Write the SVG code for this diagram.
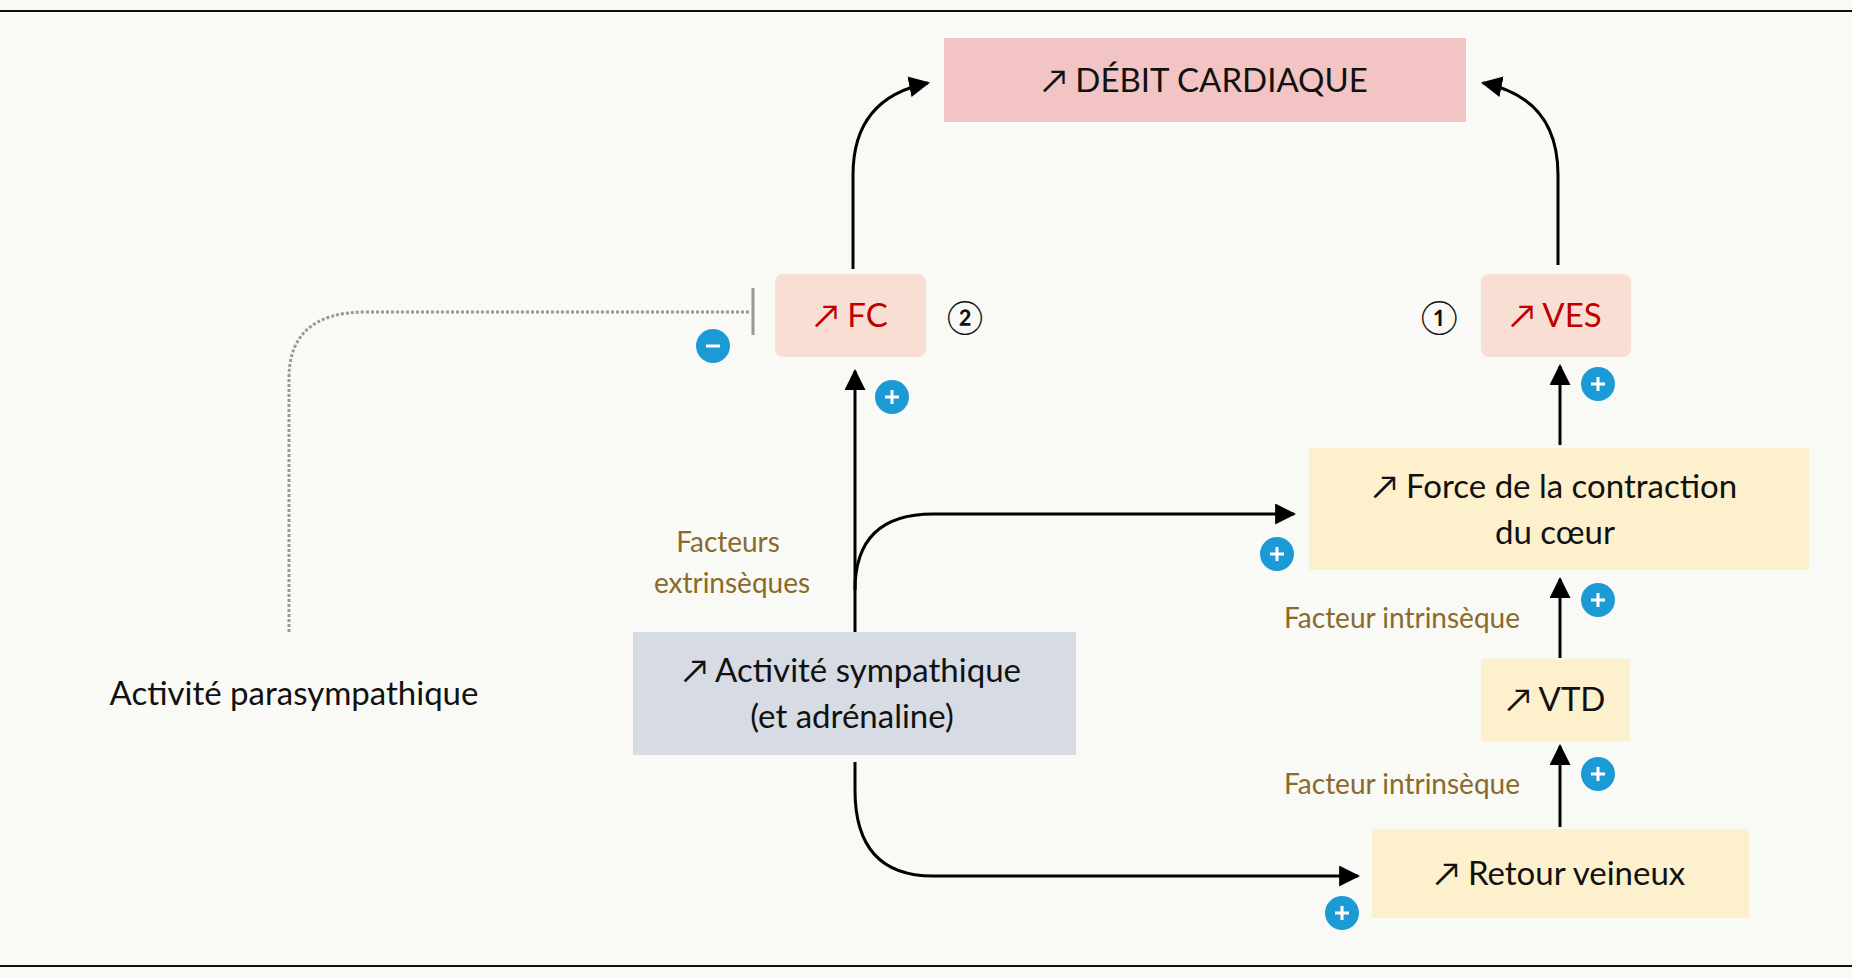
<svg xmlns="http://www.w3.org/2000/svg" width="1852" height="978" viewBox="0 0 1852 978">
<style>
text{font-family:Lato,"Open Sans","DejaVu Sans",sans-serif;text-anchor:middle}
.t{font-size:33px;fill:#111}
.r{font-size:33px;fill:#c00000}
.b{font-size:28px;fill:#8a6a2a}
.c{stroke:#000;stroke-width:3;fill:none;marker-end:url(#ah)}
.badge circle{fill:#1b9ad6}
.badge path{stroke:#fff;stroke-width:3}
</style>
<defs>
<marker id="ah" viewBox="0 0 10 10" refX="9" refY="5" markerWidth="7" markerHeight="7" markerUnits="strokeWidth" orient="auto"><path d="M0,0L10,5L0,10Z" fill="#000"/></marker>
</defs>
<rect width="1852" height="978" fill="#f9f9f6"/>
<line x1="0" y1="11" x2="1852" y2="11" stroke="#111" stroke-width="2"/>
<line x1="0" y1="966" x2="1852" y2="966" stroke="#111" stroke-width="2"/>
<g id="connectors">
<path class="c" d="M853,269V175Q853,98 928,83"/>
<path class="c" d="M1558,265V175Q1558,98 1483,83"/>
<path class="c" d="M855,632V371"/>
<path class="c" d="M855,590Q855,514 933,514H1294"/>
<path class="c" d="M855,762V790Q855,876 933,876H1358"/>
<path class="c" d="M1560,445V366"/>
<path class="c" d="M1560,658V579"/>
<path class="c" d="M1560,827V746"/>
<path d="M289,632V378Q289,312 366,312H751" stroke="#999" stroke-width="3" stroke-dasharray="3,2" fill="none"/>
<line x1="753" y1="288" x2="753" y2="335" stroke="#999" stroke-width="3"/>
</g>
<g id="debit"><rect x="944" y="38" width="522" height="84" fill="#f2c4c4"/><text class="t" x="1205" y="92">↗ DÉBIT CARDIAQUE</text></g>
<g id="fc"><rect x="775" y="274" width="151" height="83" rx="8" fill="#f9dfd3"/><text class="r" x="851" y="327">↗ FC</text></g>
<g id="ves"><rect x="1481" y="274" width="150" height="83" rx="8" fill="#f9dfd3"/><text class="r" x="1556" y="327">↗ VES</text></g>
<text class="t" x="965" y="329">②</text>
<text class="t" x="1439" y="329">①</text>
<g id="force"><rect x="1309" y="448" width="500" height="122" fill="#fdf0cc"/><text class="t" x="1555" y="498">↗ Force de la contraction</text><text class="t" x="1555" y="544">du cœur</text></g>
<g id="vtd"><rect x="1481" y="659" width="149" height="82" fill="#fdf0cc"/><text class="t" x="1556" y="711">↗ VTD</text></g>
<g id="retour"><rect x="1372" y="829" width="377" height="89" fill="#fdf0cc"/><text class="t" x="1560" y="885">↗ Retour veineux</text></g>
<g id="sympa"><rect x="633" y="632" width="443" height="123" fill="#d6dbe4"/><text class="t" x="852" y="682">↗ Activité sympathique</text><text class="t" x="852" y="728">(et adrénaline)</text></g>
<g id="para"><text class="t" x="294" y="705">Activité parasympathique</text></g>
<text class="b" x="728" y="552">Facteurs</text>
<text class="b" x="732" y="593">extrinsèques</text>
<text class="b" x="1402" y="628">Facteur intrinsèque</text>
<text class="b" x="1402" y="794">Facteur intrinsèque</text>
<g class="badge"><circle cx="713" cy="346" r="17"/><path d="M706,346H720"/></g>
<g class="badge"><circle cx="892" cy="397" r="17"/><path d="M885,397H899M892,390V404"/></g>
<g class="badge"><circle cx="1598" cy="384" r="17"/><path d="M1591,384H1605M1598,377V391"/></g>
<g class="badge"><circle cx="1277" cy="554" r="17"/><path d="M1270,554H1284M1277,547V561"/></g>
<g class="badge"><circle cx="1598" cy="600" r="17"/><path d="M1591,600H1605M1598,593V607"/></g>
<g class="badge"><circle cx="1598" cy="774" r="17"/><path d="M1591,774H1605M1598,767V781"/></g>
<g class="badge"><circle cx="1342" cy="913" r="17"/><path d="M1335,913H1349M1342,906V920"/></g>
</svg>
